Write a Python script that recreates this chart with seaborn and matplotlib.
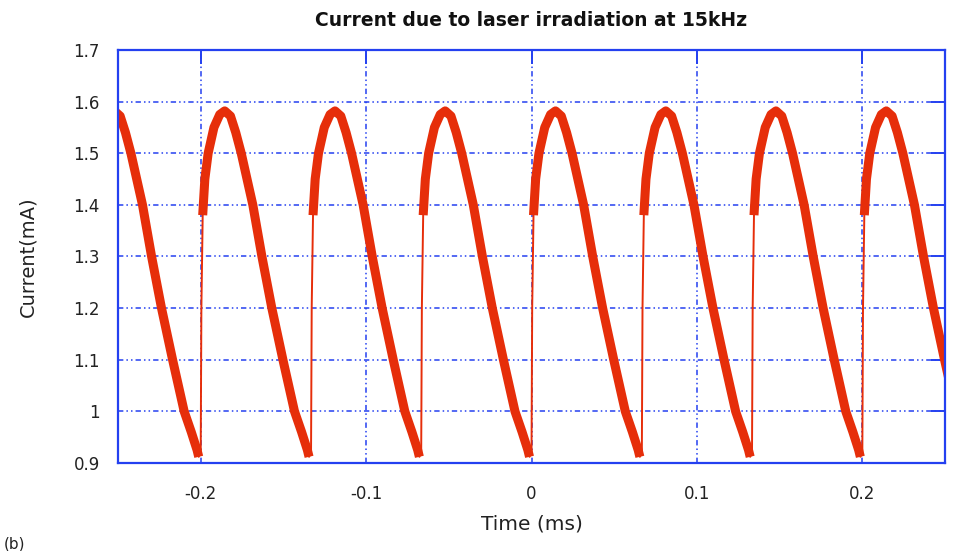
import seaborn as sns
import matplotlib.pyplot as plt
import pandas as pd

# one 15 kHz cycle: time after the rising edge (ms) and current (mA)
phase_t = [0.0, 0.0004, 0.0012, 0.0025, 0.0045, 0.0080, 0.0115, 0.0145, 0.0180,
           0.0212, 0.0245, 0.0315, 0.0370, 0.0430, 0.0497, 0.0567, 0.0610, 0.0645, 0.0655]
phase_i = [0.92, 1.20, 1.38, 1.45, 1.50, 1.55, 1.575, 1.582, 1.572,
           1.54, 1.50, 1.40, 1.30, 1.20, 1.10, 1.00, 0.96, 0.925, 0.912]

# times of the sharp rising edges (ms)
rise_times = [-0.2667, -0.2, -0.1333, -0.0667, 0.0, 0.0667, 0.1333, 0.2]

x_ticks = [-0.2, -0.1, 0, 0.1, 0.2]
x_labels = ['-0.2', '-0.1', '0', '0.1', '0.2']
y_ticks = [0.9, 1.0, 1.1, 1.2, 1.3, 1.4, 1.5, 1.6, 1.7]
y_labels = ['0.9', '1', '1.1', '1.2', '1.3', '1.4', '1.5', '1.6', '1.7']

rows = []
for k, t0 in enumerate(rise_times):
    for j, (dt, cur) in enumerate(zip(phase_t, phase_i)):
        rows.append({'Time': t0 + dt, 'Current': cur, 'cycle': k, 'thick': j >= 2})
df = pd.DataFrame(rows)

sns.set_theme(style='white')
plt.rcParams['font.family'] = ['DejaVu Sans']

blue = '#2440f0'
red = '#e62e0a'

fig = plt.figure(figsize=(9.54, 5.51), dpi=100)
ax = fig.add_axes([0.1237, 0.1597, 0.8669, 0.7496])

# thin trace (includes the vertical edges)
sns.lineplot(data=df, x='Time', y='Current', color=red, lw=1.4,
             estimator=None, sort=False, ax=ax)
# thick noisy band
sns.lineplot(data=df[df['thick']], x='Time', y='Current', units='cycle', color=red,
             lw=6.5, estimator=None, sort=False, ax=ax, solid_capstyle='butt')

ax.set_xlim(-0.25, 0.25)
ax.set_ylim(0.9, 1.7)
ax.set_xticks(x_ticks)
ax.set_xticklabels(x_labels)
ax.set_yticks(y_ticks)
ax.set_yticklabels(y_labels)

ax.grid(True, color=blue, lw=1.1, linestyle=(0, (3.5, 2, 1, 2, 1, 2)))
ax.set_axisbelow(True)
for s in ax.spines.values():
    s.set_color(blue)
    s.set_linewidth(1.6)
ax.tick_params(direction='in', length=10, width=1.4, color=blue, top=True, right=True,
               labelsize=12, labelcolor='#222222')
ax.tick_params(axis='x', pad=16)
ax.tick_params(axis='y', pad=13)

ax.set_title('Current due to laser irradiation at 15kHz', fontsize=13.5,
             fontweight='bold', color='#111111', pad=17)
ax.set_xlabel('Time (ms)', fontsize=14.5, color='#222222', labelpad=8)
ax.set_ylabel('Current(mA)', fontsize=14, color='#222222')
ax.yaxis.set_label_coords(-0.097, 0.5)

fig.text(0.004, 0.012, '(b)', fontsize=11, color='#222222', va='center')

fig.savefig('out.png', dpi=100, facecolor='white')
